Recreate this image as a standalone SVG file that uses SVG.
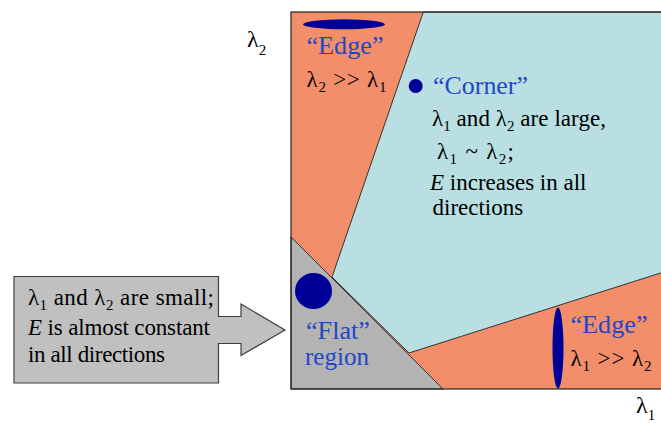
<svg xmlns="http://www.w3.org/2000/svg" width="661" height="423" viewBox="0 0 661 423" font-family="'Liberation Serif', 'Times New Roman', serif" font-size="23">
  <style>
    text { font-family: 'Liberation Serif', 'Times New Roman', serif; font-size: 23px; fill: #000; }
    .blue { fill: #2346C8; font-size: 25px; }
    .sub { font-size: 15px; }
    .it { font-style: italic; }
    .axis { font-size: 24px; }
    .region { stroke: #333; stroke-width: 1; }
    .blob { fill: #000099; }
  </style>
  <rect width="661" height="423" fill="#ffffff"/>

  <g id="plot">
    <rect id="plot-background" x="291" y="12" width="420" height="377" fill="#F28E69"/>
    <polygon id="corner-region" class="region" points="423.3,12 711,12 711,257 409,353 332,277" fill="#B9DFE2"/>
    <polygon id="flat-region" class="region" points="291,237 291,389 443,389" fill="#B3B3B3"/>
    <rect id="plot-frame" x="291" y="12" width="420" height="377" fill="none" stroke="#222" stroke-width="1.2"/>
  </g>

  <g id="node-edge-top">
    <ellipse class="blob" cx="344" cy="24.3" rx="41" ry="5"/>
    <text class="blue" x="306.5" y="54" textLength="77" lengthAdjust="spacingAndGlyphs">“Edge”</text>
    <text x="306.5" y="87" textLength="80">λ<tspan class="sub" dy="5">2</tspan><tspan dy="-5"> &gt;&gt; λ</tspan><tspan class="sub" dy="5">1</tspan></text>
  </g>

  <g id="node-corner">
    <circle class="blob" cx="415.7" cy="86" r="7"/>
    <text class="blue" x="433" y="94" textLength="95" lengthAdjust="spacingAndGlyphs">“Corner”</text>
    <text x="432" y="126" textLength="174">λ<tspan class="sub" dy="5">1</tspan><tspan dy="-5"> and λ</tspan><tspan class="sub" dy="5">2</tspan><tspan dy="-5"> are large,</tspan></text>
    <text x="437" y="159" textLength="77">λ<tspan class="sub" dy="5">1</tspan><tspan dy="-5"> ~ λ</tspan><tspan class="sub" dy="5">2</tspan><tspan dy="-5">;</tspan></text>
    <text x="430" y="190"><tspan class="it">E</tspan> increases in all</text>
    <text x="432.5" y="215">directions</text>
  </g>

  <g id="node-flat">
    <ellipse class="blob" cx="313.5" cy="291" rx="18.5" ry="18"/>
    <text class="blue" x="306" y="339" textLength="64" lengthAdjust="spacingAndGlyphs">“Flat”</text>
    <text class="blue" x="305" y="365" textLength="64" lengthAdjust="spacingAndGlyphs">region</text>
  </g>

  <g id="node-edge-bottom">
    <ellipse class="blob" cx="558" cy="348" rx="5.5" ry="40.5"/>
    <text class="blue" x="570.5" y="333" textLength="77" lengthAdjust="spacingAndGlyphs">“Edge”</text>
    <text x="570.5" y="366" textLength="81">λ<tspan class="sub" dy="5">1</tspan><tspan dy="-5"> &gt;&gt; λ</tspan><tspan class="sub" dy="5">2</tspan></text>
  </g>

  <g id="node-callout">
    <polygon points="14,276.5 218.5,276.5 218.5,316.5 241,316.5 241,304 285,330 241,355.5 241,343.5 218.5,343.5 218.5,383 14,383" fill="#C0C0C0" stroke="#404040" stroke-width="1.2"/>
    <text x="28" y="305" textLength="186">λ<tspan class="sub" dy="5">1</tspan><tspan dy="-5"> and λ</tspan><tspan class="sub" dy="5">2</tspan><tspan dy="-5"> are small;</tspan></text>
    <text x="28" y="335" textLength="182"><tspan class="it">E</tspan> is almost constant</text>
    <text x="28" y="362" textLength="137">in all directions</text>
  </g>

  <g id="axis-labels">
    <text class="axis" x="247" y="47">λ<tspan class="sub" dy="8">2</tspan></text>
    <text class="axis" x="636" y="413">λ<tspan class="sub" dy="7">1</tspan></text>
  </g>

  <g id="connectors"/>
</svg>
